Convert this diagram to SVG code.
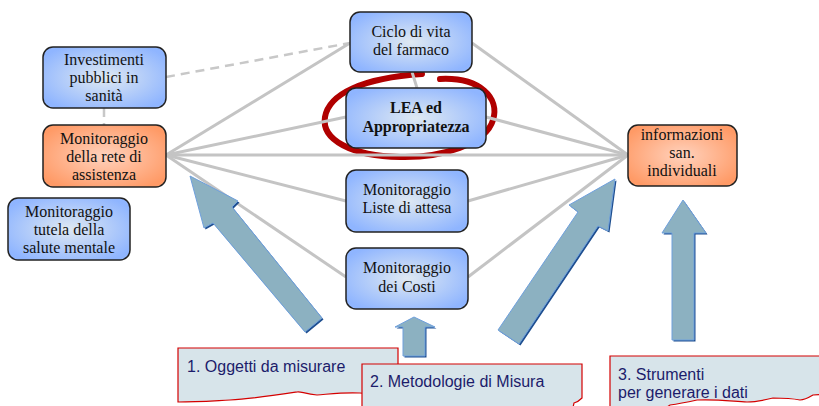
<svg xmlns="http://www.w3.org/2000/svg" width="819" height="406" viewBox="0 0 819 406">
<defs>
<radialGradient id="gBlue" cx="50%" cy="50%" r="60%">
<stop offset="0" stop-color="#dfe9f2"/>
<stop offset="1" stop-color="#8fb5ff"/>
</radialGradient>
<radialGradient id="gOrange" cx="50%" cy="50%" r="60%">
<stop offset="0" stop-color="#ffd2bd"/>
<stop offset="1" stop-color="#ff9a66"/>
</radialGradient>
<style>
.node{stroke:#222;stroke-width:1.5}
.blue{fill:url(#gBlue)}
.orange{fill:url(#gOrange)}
.nt{font-family:"Liberation Serif","Times New Roman",serif;font-size:16px;fill:#111;text-anchor:middle}
.bold{font-weight:bold}
.conn{stroke:#c4c4c4;stroke-width:3;fill:none}
.dash{stroke:#c8c8c8;stroke-width:2.5;fill:none;stroke-dasharray:9 6}
.arrow{fill:#8cb1c1;stroke:#6fa0dd;stroke-width:1}
.ashadow{fill:#1f4f8f}
.note{fill:#d7e4ea;stroke:#d40000;stroke-width:1.2}
.nt2{font-family:"Liberation Sans",Arial,sans-serif;font-size:16px;fill:#1c1c6b}
</style>
</defs>

<path id="highlight" d="M440,79 C480,77 500,98 493,120 C486,144 442,158 400,157 C352,156 321,140 325,117 C329,94 362,78 422,74" fill="none" stroke="#b00000" stroke-width="6" stroke-linecap="round"/>

<g id="connectors">
<line class="dash" x1="166" y1="77" x2="350" y2="43"/>
<line class="dash" x1="104" y1="108" x2="104" y2="125"/>
<line class="conn" x1="166" y1="155" x2="350" y2="43"/>
<line class="conn" x1="166" y1="155" x2="346" y2="117"/>
<line class="conn" x1="166" y1="155" x2="628" y2="155"/>
<line class="conn" x1="166" y1="155" x2="346" y2="201"/>
<line class="conn" x1="166" y1="155" x2="346" y2="277"/>
<line class="conn" x1="628" y1="155" x2="472" y2="43"/>
<line class="conn" x1="628" y1="155" x2="486" y2="117"/>
<line class="conn" x1="628" y1="155" x2="468" y2="201"/>
<line class="conn" x1="628" y1="155" x2="468" y2="277"/>
<line class="conn" x1="412" y1="72" x2="417" y2="88"/>
</g>

<g id="investimenti">
<rect class="node blue" x="43" y="47" width="123" height="61" rx="10"/>
<text class="nt" x="104" y="65">Investimenti</text>
<text class="nt" x="104" y="83">pubblici in</text>
<text class="nt" x="104" y="101">sanità</text>
</g>
<g id="rete">
<rect class="node orange" x="43" y="125" width="123" height="62" rx="10"/>
<text class="nt" x="104" y="144">Monitoraggio</text>
<text class="nt" x="104" y="162">della rete di</text>
<text class="nt" x="104" y="180">assistenza</text>
</g>
<g id="tutela">
<rect class="node blue" x="8" y="198" width="122" height="62" rx="10"/>
<text class="nt" x="69" y="217">Monitoraggio</text>
<text class="nt" x="69" y="235">tutela della</text>
<text class="nt" x="69" y="253">salute mentale</text>
</g>
<g id="ciclo">
<rect class="node blue" x="350" y="12" width="122" height="60" rx="10"/>
<text class="nt" x="411" y="37">Ciclo di vita</text>
<text class="nt" x="411" y="55">del farmaco</text>
</g>
<g id="lea">
<rect class="node blue" x="346" y="88" width="140" height="60" rx="10"/>
<text class="nt bold" x="416" y="113">LEA ed</text>
<text class="nt bold" x="416" y="132">Appropriatezza</text>
</g>
<g id="liste">
<rect class="node blue" x="346" y="170" width="122" height="62" rx="10"/>
<text class="nt" x="407" y="195">Monitoraggio</text>
<text class="nt" x="407" y="213">Liste di attesa</text>
</g>
<g id="costi">
<rect class="node blue" x="346" y="248" width="122" height="61" rx="10"/>
<text class="nt" x="407" y="273">Monitoraggio</text>
<text class="nt" x="407" y="292">dei Costi</text>
</g>
<g id="informazioni">
<rect class="node orange" x="628" y="125" width="109" height="61" rx="10"/>
<text class="nt" x="682" y="140">informazioni</text>
<text class="nt" x="682" y="158">san.</text>
<text class="nt" x="682" y="176">individuali</text>
</g>

<g id="arrows">
<g transform="translate(1.5,1.5)">
<polygon class="ashadow" points="190,176 238,201 232,207 322,318 305,332 213,223 204,228"/>
<polygon class="ashadow" points="414,317 435,327 425,327 425,356 403,356 403,327 395,327"/>
<polygon class="ashadow" points="615,179 608,231 598,226 519,344 498,330 578,212 569,205"/>
<polygon class="ashadow" points="683,200 706,233 694,233 694,340 672,340 672,233 662,233"/>
</g>
<polygon class="arrow" points="190,176 238,201 232,207 322,318 305,332 213,223 204,228"/>
<polygon class="arrow" points="414,317 435,327 425,327 425,356 403,356 403,327 395,327"/>
<polygon class="arrow" points="615,179 608,231 598,226 519,344 498,330 578,212 569,205"/>
<polygon class="arrow" points="683,200 706,233 694,233 694,340 672,340 672,233 662,233"/>
</g>

<g id="note1">
<path class="note" d="M178,348 L398,348 L398,393 C385,392 370,394 360,393 C345,392 330,394 317,395 C305,394 300,391 297,392 C270,396 250,399 230,400 C210,401 195,402 178,402 Z"/>
<text class="nt2" x="187" y="372">1. Oggetti da misurare</text>
</g>
<g id="note2">
<path class="note" d="M362,364 L582,364 L582,398 C580,400 578,402 574,403 L572,412 L362,412 Z"/>
<text class="nt2" x="370" y="387">2. Metodologie di Misura</text>
</g>
<g id="note3">
<path class="note" d="M610,356 L830,356 L830,394 L813,395 C808,398 803,400 800,400 C790,398 780,398 773,398 C765,400 755,402 747,402 C730,401 715,399 697,400 C688,402 678,404 670,405 L660,412 L610,412 Z"/>
<text class="nt2" x="618" y="380">3. Strumenti</text>
<text class="nt2" x="618" y="398">per generare i dati</text>
</g>
</svg>
